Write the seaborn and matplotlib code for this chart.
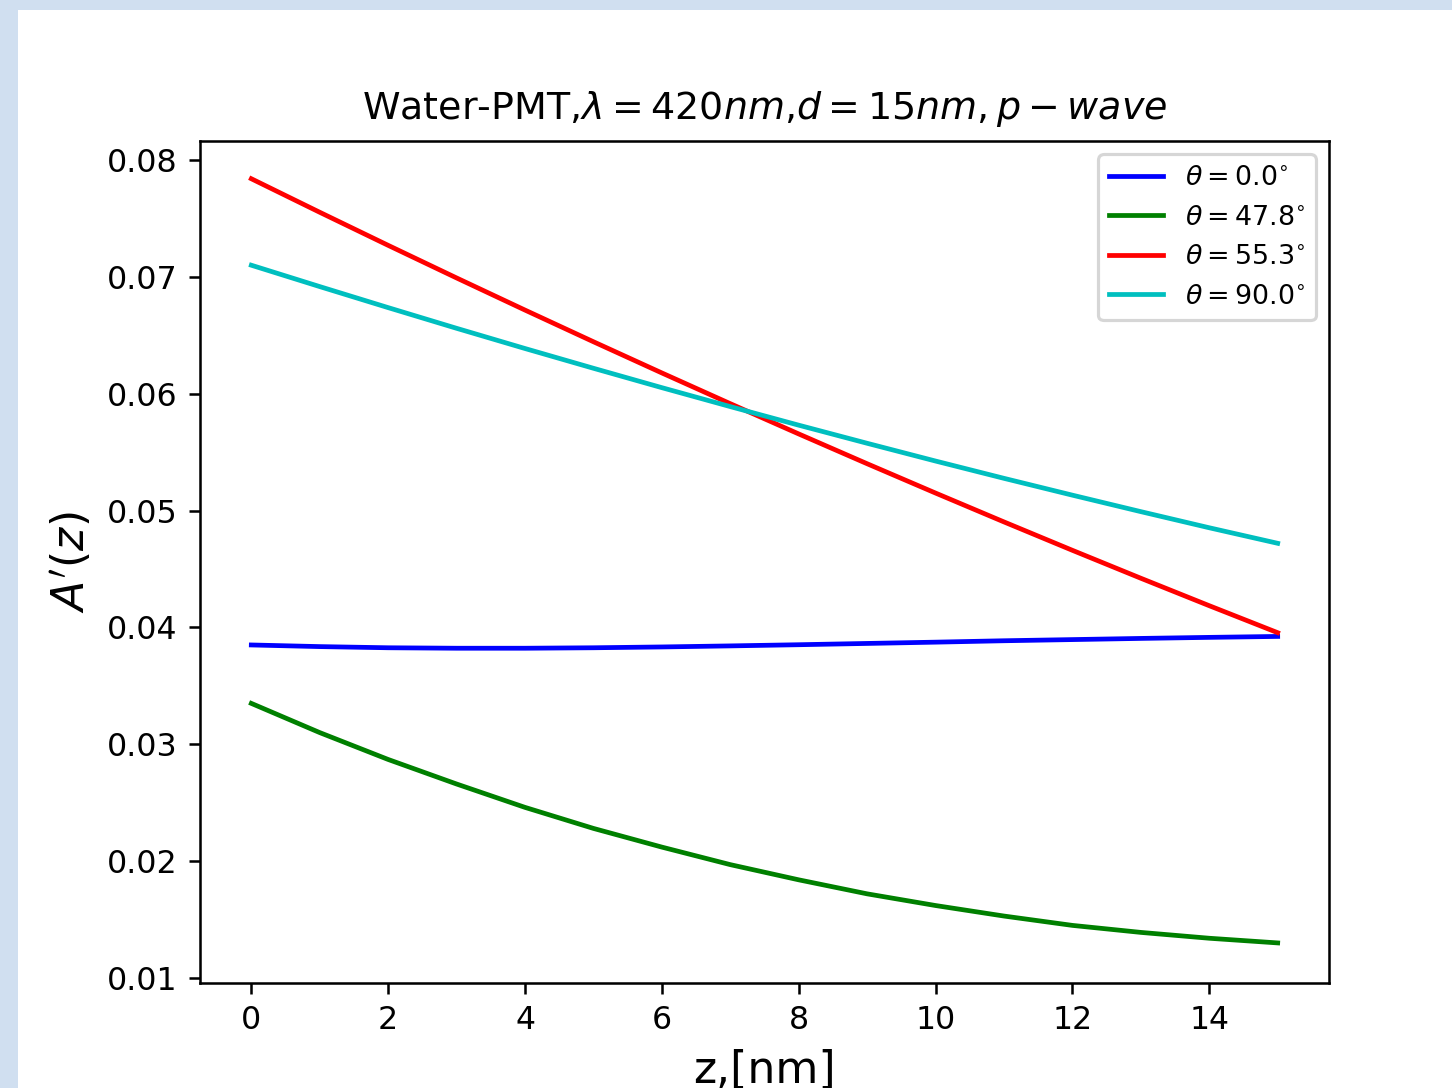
import numpy as np
import pandas as pd
import matplotlib
matplotlib.use("Agg")
import matplotlib.pyplot as plt
import seaborn as sns
from matplotlib.patches import Rectangle

z = [0, 1, 2, 3, 4, 5, 6, 7, 8, 9, 10, 11, 12, 13, 14, 15]
a_0 = [0.03850, 0.03836, 0.03826, 0.03822, 0.03822, 0.03826, 0.03833, 0.03842,
       0.03852, 0.03863, 0.03874, 0.03886, 0.03896, 0.03906, 0.03915, 0.03923]
a_478 = [0.0335, 0.0310, 0.0287, 0.0266, 0.0246, 0.0228, 0.0212, 0.0197,
         0.0184, 0.0172, 0.0162, 0.0153, 0.0145, 0.0139, 0.0134, 0.0130]
a_553 = [0.07840, 0.07553, 0.07270, 0.06991, 0.06716, 0.06445, 0.06178, 0.05915,
         0.05656, 0.05401, 0.05150, 0.04903, 0.04660, 0.04421, 0.04186, 0.03955]
a_900 = [0.07100, 0.06917, 0.06737, 0.06560, 0.06387, 0.06218, 0.06052, 0.05890,
         0.05731, 0.05576, 0.05424, 0.05276, 0.05132, 0.04991, 0.04853, 0.04720]
labels = [r"$\theta=0.0^{\circ}$", r"$\theta=47.8^{\circ}$", r"$\theta=55.3^{\circ}$", r"$\theta=90.0^{\circ}$"]
colors = ["b", "g", "r", "c"]

frames = []
for lab, vals in zip(labels, [a_0, a_478, a_553, a_900]):
    frames.append(pd.DataFrame({"z": z, "A": vals, "theta": lab}))
df = pd.concat(frames, ignore_index=True)

DPI = 227.7
fig = plt.figure(figsize=(1452 / DPI, 1088 / DPI), dpi=DPI)
fig.patch.set_facecolor("#d0dff0")
fig.patches.append(Rectangle((18 / 1452, 0), 1, 1 - 10 / 1088, transform=fig.transFigure,
                             facecolor="white", edgecolor="none", zorder=-5))
ax = fig.add_axes([200 / 1452, 1 - 983 / 1088, (1329 - 200) / 1452, (983 - 141) / 1088])
ax.set_zorder(2)

sns.lineplot(data=df, x="z", y="A", hue="theta", palette=dict(zip(labels, colors)),
             linewidth=1.5, ax=ax)
ax.set_xlim(-0.75, 15.75)
ax.set_ylim(0.00957, 0.08163)
ax.set_xticks([0, 2, 4, 6, 8, 10, 12, 14])
ax.set_yticks([0.01, 0.02, 0.03, 0.04, 0.05, 0.06, 0.07, 0.08])
ax.tick_params(labelsize=10)
ax.set_title(r"Water-PMT,$\lambda=420nm$,$d=15nm,p-wave$", fontsize=12, pad=7)
ax.set_xlabel("z,[nm]", fontsize=14)
ax.set_ylabel(r"$A'(z)$", fontsize=14)
ax.legend(title=None, loc="upper right", fontsize=8.5)
fig.savefig("out.png", dpi=DPI, facecolor=fig.get_facecolor())
